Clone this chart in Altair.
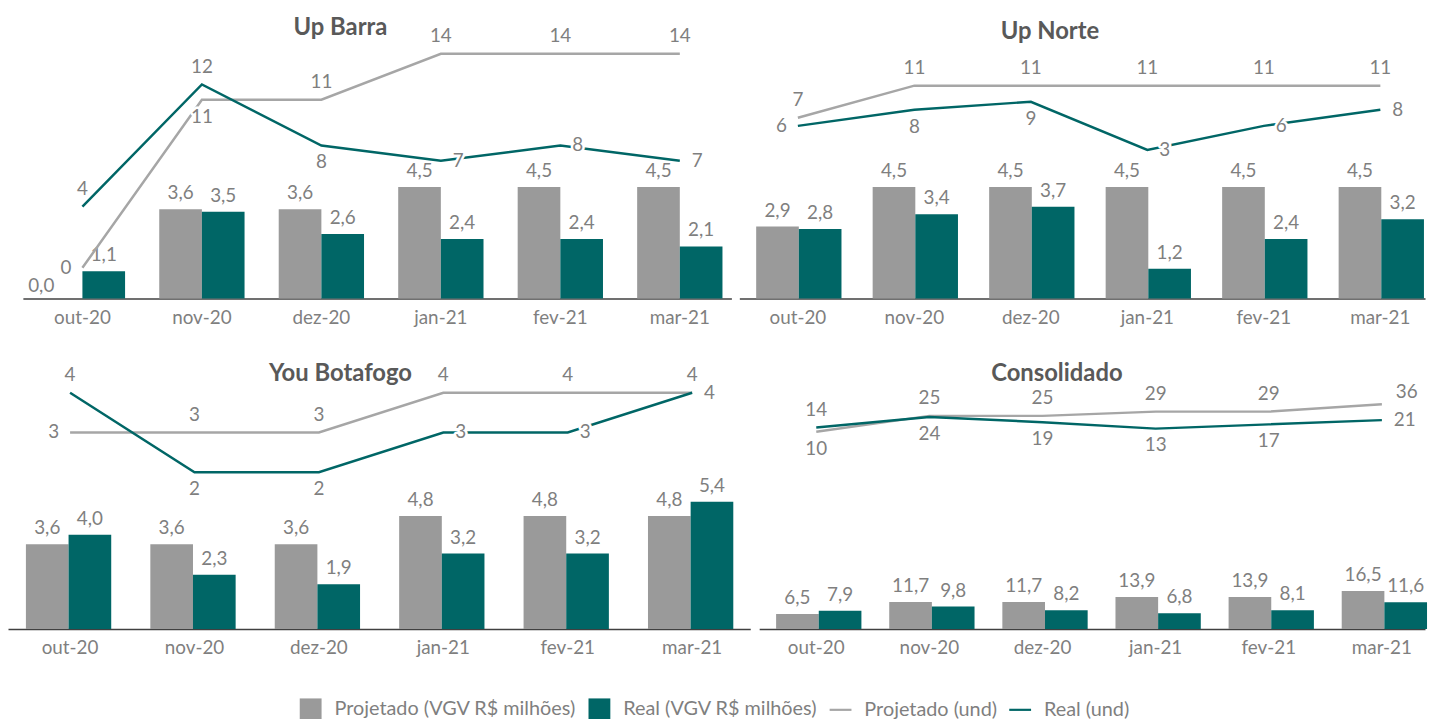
import altair as alt
import pandas as pd

MONTHS = ["out-20", "nov-20", "dez-20", "jan-21", "fev-21", "mar-21"]
LEG_DOMAIN = ["Projetado (VGV R$ milhões)", "Real (VGV R$ milhões)", "Projetado (und)", "Real (und)"]

# Up Barra
UB_PROJ_VGV = [0.0, 3.6, 3.6, 4.5, 4.5, 4.5]
UB_REAL_VGV = [1.1, 3.5, 2.6, 2.4, 2.4, 2.1]
UB_PROJ_UND = [0, 11, 11, 14, 14, 14]
UB_REAL_UND = [4, 12, 8, 7, 8, 7]
# Up Norte
UN_PROJ_VGV = [2.9, 4.5, 4.5, 4.5, 4.5, 4.5]
UN_REAL_VGV = [2.8, 3.4, 3.7, 1.2, 2.4, 3.2]
UN_PROJ_UND = [7, 11, 11, 11, 11, 11]
UN_REAL_UND = [6, 8, 9, 3, 6, 8]
# You Botafogo
YB_PROJ_VGV = [3.6, 3.6, 3.6, 4.8, 4.8, 4.8]
YB_REAL_VGV = [4.0, 2.3, 1.9, 3.2, 3.2, 5.4]
YB_PROJ_UND = [3, 3, 3, 4, 4, 4]
YB_REAL_UND = [4, 2, 2, 3, 3, 4]
# Consolidado
CO_PROJ_VGV = [6.5, 11.7, 11.7, 13.9, 13.9, 16.5]
CO_REAL_VGV = [7.9, 9.8, 8.2, 6.8, 8.1, 11.6]
CO_PROJ_UND = [10, 25, 25, 29, 29, 36]
CO_REAL_UND = [14, 24, 19, 13, 17, 21]

# label placement (style): a=above, b=below, l=left, r=right, ar=above-right
UB_PROJ_POS = ["l", "b", "a", "a", "a", "a"]
UB_REAL_POS = ["a", "a", "b", "r", "r", "r"]
UN_PROJ_POS = ["a", "a", "a", "a", "a", "a"]
UN_REAL_POS = ["l", "b", "b", "r", "r", "r"]
YB_PROJ_POS = ["l", "a", "a", "a", "a", "a"]
YB_REAL_POS = ["a", "b", "b", "r", "r", "r"]
CO_PROJ_POS = ["b", "a", "a", "a", "a", "ar"]
CO_REAL_POS = ["a", "b", "b", "b", "b", "r"]

FONT = "Lato"
GRAY_BAR = "#9A9A9A"
TEAL = "#006666"
GRAY_LINE = "#A6A6A6"
TXT = "#7F7F7F"
TITLE_C = "#595959"
LINE_PATH = "M-1,-0.1H1V0.1H-1Z"

OFFS = {
    "a": dict(dy=-18, align="center"),
    "b": dict(dy=17, align="center"),
    "l": dict(dx=-11, align="right"),
    "r": dict(dx=12, align="left"),
    "ar": dict(dx=14, dy=-12, align="left"),
}


def panel(title, pv, rv, pu, ru, ppos, rpos, W, H, bar_max, line_dom, pad, title_xy, legend=False):
    pi, po, al = pad
    bdf = pd.DataFrame({"m": MONTHS * 2,
                        "s": [LEG_DOMAIN[0]] * 6 + [LEG_DOMAIN[1]] * 6,
                        "v": list(pv) + list(rv)})
    bdf["lab"] = [f"{v:.1f}".replace(".", ",") for v in bdf["v"]]
    ldf = pd.DataFrame({"m": MONTHS * 2,
                        "s": [LEG_DOMAIN[2]] * 6 + [LEG_DOMAIN[3]] * 6,
                        "v": list(pu) + list(ru),
                        "pos": list(ppos) + list(rpos)})
    ldf["lab"] = [str(v) for v in ldf["v"]]

    x = alt.X("m:N", sort=MONTHS, title=None,
              scale=alt.Scale(type="band", domain=MONTHS, paddingInner=pi, paddingOuter=po, align=al),
              axis=alt.Axis(labelAngle=0, ticks=False, grid=False, domainColor="#404040", domainWidth=1.5,
                            labelColor=TXT, labelFont=FONT, labelFontSize=19, labelPadding=10))
    yb = alt.Y("v:Q", scale=alt.Scale(domain=[0, bar_max], nice=False, zero=False), axis=None)
    yl = alt.Y("v:Q", scale=alt.Scale(domain=line_dom, nice=False, zero=False), axis=None)
    xo = alt.XOffset("s:N", scale=alt.Scale(domain=LEG_DOMAIN[:2], paddingInner=0, paddingOuter=0))

    base_b = alt.Chart(bdf)
    bars_p = base_b.transform_filter(alt.datum.s == LEG_DOMAIN[0]).mark_bar(color=GRAY_BAR).encode(
        x=x, xOffset=xo, y=yb)
    bars_r = base_b.transform_filter(alt.datum.s == LEG_DOMAIN[1]).mark_bar(color=TEAL).encode(
        x=x, xOffset=xo, y=yb)
    blab = base_b.transform_filter(alt.datum.v > 0).mark_text(
        dy=-16, font=FONT, fontSize=19, color=TXT).encode(x=x, xOffset=xo, y=yb, text="lab:N")
    blab0 = base_b.transform_filter(alt.datum.v <= 0).mark_text(
        dy=-13, dx=-20, font=FONT, fontSize=19, color=TXT).encode(x=x, xOffset=xo, y=yb, text="lab:N")
    base_l = alt.Chart(ldf)
    line_p = base_l.transform_filter(alt.datum.s == LEG_DOMAIN[2]).mark_line(
        strokeWidth=2.5, color=GRAY_LINE).encode(x=x, y=yl)
    line_r = base_l.transform_filter(alt.datum.s == LEG_DOMAIN[3]).mark_line(
        strokeWidth=2.5, color=TEAL).encode(x=x, y=yl)
    layers = [bars_p, bars_r, blab, blab0, line_p, line_r]
    for code, kw in OFFS.items():
        f = alt.datum.pos == code
        layers.append(base_l.transform_filter(f).mark_text(
            font=FONT, fontSize=19, fill="white", stroke="white", strokeWidth=5, strokeJoin="round", **kw
        ).encode(x=x, y=yl, text="lab:N"))
        layers.append(base_l.transform_filter(f).mark_text(
            font=FONT, fontSize=19, color=TXT, **kw
        ).encode(x=x, y=yl, text="lab:N"))
    tt = alt.Chart(pd.DataFrame({"t": [title]})).mark_text(
        font=FONT, fontSize=24, fontWeight="bold", color=TITLE_C
    ).encode(text="t:N", x=alt.value(title_xy[0]), y=alt.value(title_xy[1]))
    layers.append(tt)
    if legend:
        lg = dict(title=None, orient="none", legendX=294, legendY=693, direction="horizontal", columns=4,
                  symbolSize=484, labelFont=FONT, labelFontSize=20, labelColor=TXT, labelOffset=13,
                  columnPadding=12, symbolStrokeWidth=0, padding=0, symbolOpacity=1, labelLimit=400)
        leg = alt.Chart(pd.DataFrame({"s": LEG_DOMAIN})).mark_point(
            filled=True, opacity=0, size=1).encode(
            x=alt.value(100), y=alt.value(100),
            color=alt.Color("s:N", scale=alt.Scale(domain=LEG_DOMAIN, range=[GRAY_BAR, TEAL, GRAY_LINE, TEAL]),
                            legend=alt.Legend(**lg)),
            shape=alt.Shape("s:N", scale=alt.Scale(domain=LEG_DOMAIN,
                                                   range=["square", "square", LINE_PATH, LINE_PATH]),
                            legend=alt.Legend(**lg)))
        layers.append(leg)
    return alt.layer(*layers).resolve_scale(y="independent").properties(width=W, height=H)


up_barra = panel("Up Barra", UB_PROJ_VGV, UB_REAL_VGV, UB_PROJ_UND, UB_REAL_UND, UB_PROJ_POS, UB_REAL_POS,
                 714, 290, 11.6, [-2.01, 16.82], (0.286, 0.108, 0.654), (320, 17))
up_norte = panel("Up Norte", UN_PROJ_VGV, UN_REAL_VGV, UN_PROJ_UND, UN_REAL_UND, UN_PROJ_POS, UN_REAL_POS,
                 691, 290, 11.6, [-15.48, 20.32], (0.284, 0.085, 0.85), (313, 21))
you_bot = panel("You Botafogo", YB_PROJ_VGV, YB_REAL_VGV, YB_PROJ_UND, YB_REAL_UND, YB_PROJ_POS, YB_REAL_POS,
                748, 280, 11.8, [-1.95, 5.05], (0.29, 0.128, 0.5625), (335, 23))
consol = panel("Consolidado", CO_PROJ_VGV, CO_REAL_VGV, CO_PROJ_UND, CO_REAL_UND, CO_PROJ_POS, CO_REAL_POS,
               671, 280, 121, [-175.7, 86.0], (0.29, 0.088, 0.85), (300, 23), legend=True)

spacer = alt.Chart(pd.DataFrame({"a": [0]})).mark_point(opacity=0, size=1).encode(
    x=alt.value(3), y=alt.value(100)).properties(width=7, height=290)

top = alt.hconcat(spacer, up_barra, up_norte, spacing=8)
bottom = alt.hconcat(you_bot, consol, spacing=9)

chart = alt.vconcat(top, bottom, spacing=24).properties(padding=0).configure_view(stroke=None)

chart.save("out.html", embed_options={"renderer": "svg", "actions": False})
